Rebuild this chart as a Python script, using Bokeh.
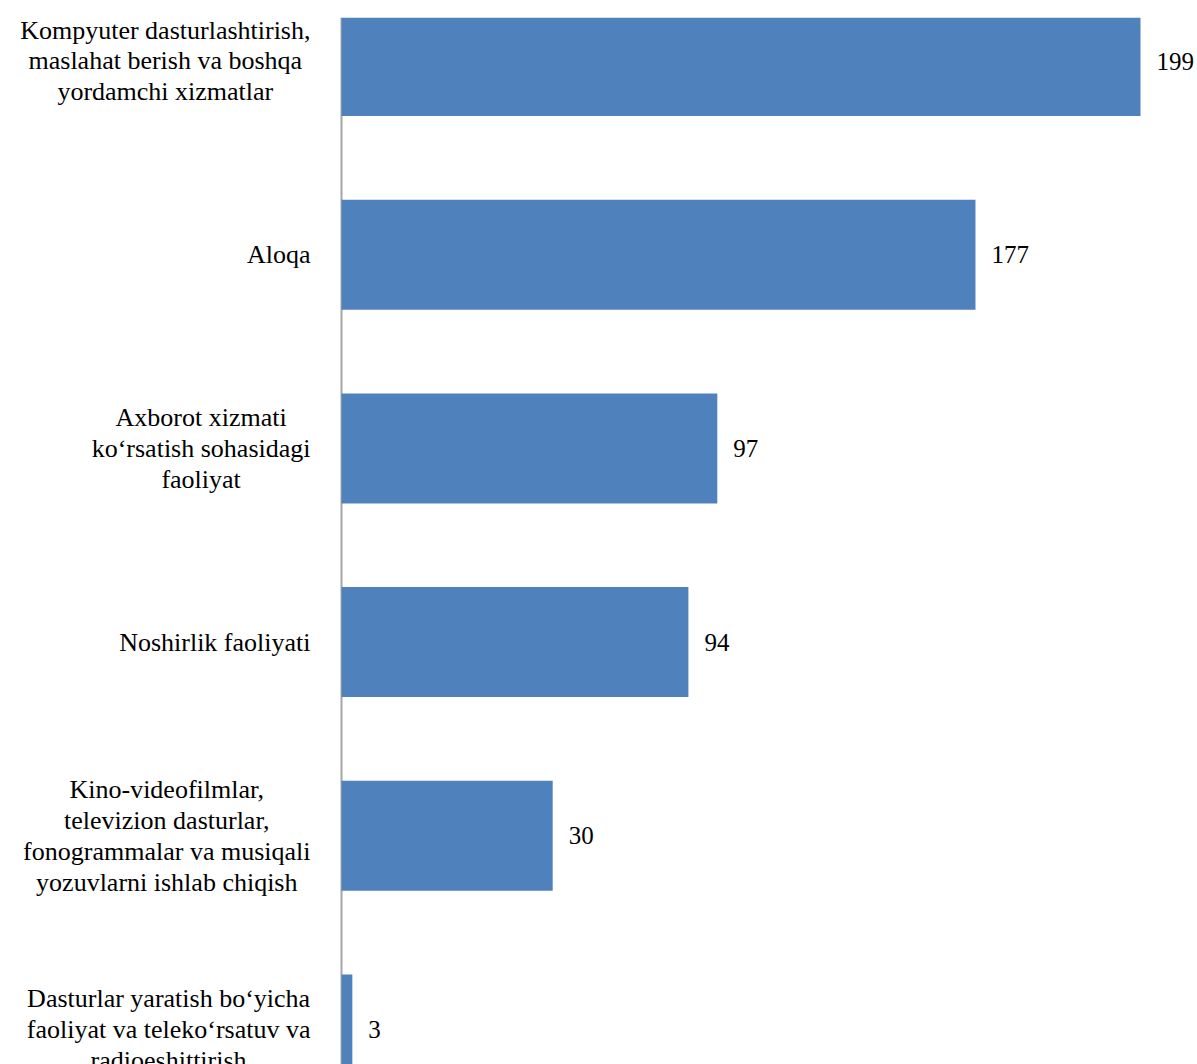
from bokeh.plotting import figure
from bokeh.models import ColumnDataSource, Range1d, Span
from bokeh.core.properties import value
from bokeh.embed import file_html
from bokeh.resources import INLINE

# ---- data ----
categories = [
    "Kompyuter dasturlashtirish,\nmaslahat berish va boshqa\nyordamchi xizmatlar",
    "Aloqa",
    "Axborot xizmati\nko\u2018rsatish sohasidagi\nfaoliyat",
    "Noshirlik faoliyati",
    "Kino-videofilmlar,\ntelevizion dasturlar,\nfonogrammalar va musiqali\nyozuvlarni ishlab chiqish",
    "Dasturlar yaratish bo\u2018yicha\nfaoliyat va teleko\u2018rsatuv va\nradioeshittirish",
]
value_labels = ["199", "177", "97", "94", "30", "3"]
# bar lengths as drawn in the picture (same units as the longest bar = 199)
bar_lengths = [199, 157.9, 93.6, 86.4, 52.6, 2.7]

# ---- layout ----
W, H = 1197, 1064
TOP = 17
PX_PER_X = 799 / 199.0      # pixels per x unit
AXIS_PX = 341               # canvas x of the category axis
PX_PER_Y = 193.7            # pixels per category
FIRST_CENTER = 60.5         # canvas y of first category centre
FONT_PX = 26
LABEL_RIGHT_PX = 310

# Times / Liberation Serif advance widths (per 1000 em)
_w = {' ': 250, ',': 250, '-': 333, '\u2018': 333,
      'a': 444, 'b': 500, 'c': 444, 'd': 500, 'e': 444, 'f': 333, 'g': 500,
      'h': 500, 'i': 278, 'j': 278, 'k': 500, 'l': 278, 'm': 778, 'n': 500,
      'o': 500, 'p': 500, 'q': 500, 'r': 333, 's': 389, 't': 278, 'u': 500,
      'v': 500, 'w': 722, 'x': 500, 'y': 500, 'z': 444,
      'A': 722, 'K': 722, 'N': 722, 'D': 722}

def text_width(s):
    return max(sum(_w.get(ch, 500) for ch in line) for line in s.split("\n")) * FONT_PX / 1000.0

idx = list(range(len(categories)))
label_x = [((LABEL_RIGHT_PX - text_width(c) / 2.0) - AXIS_PX) / PX_PER_X for c in categories]

src = ColumnDataSource(dict(y=idx, length=bar_lengths, lab=value_labels,
                            cat=categories, cx=label_x))

frame_h = H - TOP
y_top = (TOP - FIRST_CENTER) / PX_PER_Y
y_bottom = y_top + frame_h / PX_PER_Y

p = figure(width=W, height=H, output_backend="svg", toolbar_location=None,
           x_range=Range1d(-AXIS_PX / PX_PER_X, (W - AXIS_PX) / PX_PER_X),
           y_range=Range1d(y_bottom, y_top),
           x_axis_location=None, y_axis_location=None,
           min_border_left=0, min_border_right=0, min_border_bottom=0,
           min_border_top=TOP)
p.outline_line_color = None
p.xgrid.visible = False
p.ygrid.visible = False
p.background_fill_color = "white"
p.border_fill_color = "white"

p.add_layout(Span(location=0, dimension="height", line_color="#A6A6A6",
                  line_width=2, level="underlay"))

p.hbar(y="y", left=0, right="length", height=110 / PX_PER_Y, source=src,
       fill_color="#4F81BD", line_color=None)

p.text(x="length", y="y", text="lab", source=src, x_offset=16,
       text_align="left", text_baseline="middle",
       text_font=value("Liberation Serif"), text_font_size="25px",
       text_color="black")

p.text(x="cx", y="y", text="cat", source=src,
       text_align="center", text_baseline="middle", text_line_height=1.065,
       text_font=value("Liberation Serif"), text_font_size=f"{FONT_PX}px",
       text_color="black")

open("out.html", "w").write(file_html(p, INLINE))
